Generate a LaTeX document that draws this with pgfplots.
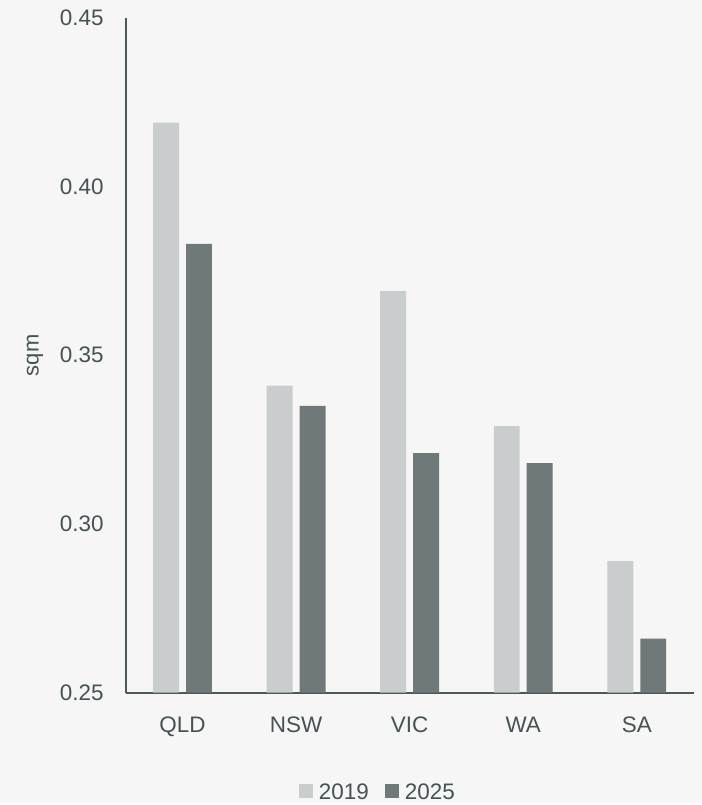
\documentclass[border=0pt]{standalone}
\usepackage{pgfplots}
\pgfplotsset{compat=1.18}
\usepackage{fontspec}
\setmainfont{Liberation Sans}
\usetikzlibrary{backgrounds}

\definecolor{bg}{HTML}{F6F6F6}
\definecolor{lightbar}{HTML}{CACDCD}
\definecolor{darkbar}{HTML}{6F7979}
\definecolor{axiscol}{HTML}{4D5858}
\definecolor{txt}{HTML}{465253}

\newcommand{\lblfont}{\fontsize{22.5}{26}\selectfont}

\begin{document}
\begin{tikzpicture}
\begin{axis}[
  width=569pt, height=676pt, scale only axis,
  xmin=-0.5, xmax=4.5, ymin=0.25, ymax=0.45,
  ybar=7pt, bar width=26pt,
  xtick={0,1,2,3,4},
  xticklabels={QLD,NSW,VIC,WA,SA},
  ytick={0.25,0.30,0.35,0.40,0.45},
  yticklabel style={
    /pgf/number format/fixed,
    /pgf/number format/fixed zerofill,
    /pgf/number format/precision=2,
    anchor=east, inner sep=0pt, xshift=-22pt},
  xticklabel style={anchor=north, inner sep=0pt, yshift=-24pt},
  /pgf/number format/assume math mode=true,
  every tick label/.append style={font=\lblfont, text=txt},
  major tick length=0pt,
  axis x line*=bottom, axis y line*=left,
  axis line style={draw=axiscol, line width=1.9pt, -},
  ylabel={sqm},
  ylabel style={at={(axis description cs:-0.16,0.5)}, anchor=center,
    rotate=0, font=\fontsize{22}{26}\selectfont, text=txt},
  legend entries={2019,2025},
  legend columns=-1,
  legend image code/.code={\fill[#1,draw=none] (0pt,-6pt) rectangle (14pt,8pt);
    \path (18pt,0pt);},
  legend style={draw=none, fill=none, font=\lblfont, text=txt,
    at={(axis description cs:0.444,-0.148)}, anchor=center,
    /tikz/every even column/.append style={column sep=14pt}},
]
\coordinate (sw) at (rel axis cs:0,0);
\coordinate (ne) at (rel axis cs:1,1);
% 2019
\addplot[fill=lightbar, draw=none] coordinates {
  (0,0.419) (1,0.341) (2,0.369) (3,0.329) (4,0.289)};
% 2025
\addplot[fill=darkbar, draw=none] coordinates {
  (0,0.383) (1,0.335) (2,0.321) (3,0.318) (4,0.266)};
\end{axis}
\begin{scope}[on background layer]
  \fill[bg] ([xshift=-126pt,yshift=-111pt]sw) rectangle ([xshift=8pt,yshift=18pt]ne);
\end{scope}
\end{tikzpicture}
\end{document}
